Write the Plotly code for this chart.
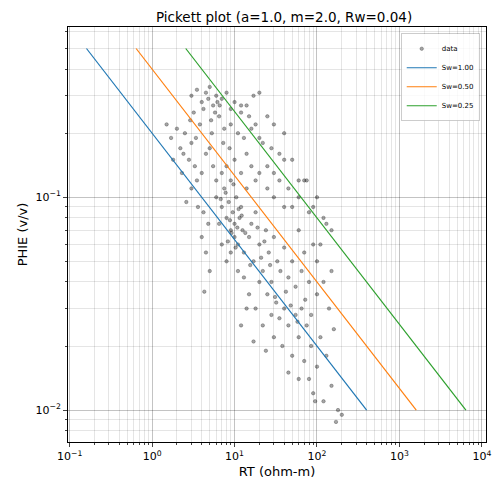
import numpy as np
import plotly.graph_objects as go

# Archie parameters
a, m, n, rw = 1.0, 2.0, 2.0, 0.04
sw_values = [1.00, 0.50, 0.25]
sw_colors = ["#1f77b4", "#ff7f0e", "#2ca02c"]
phie_line = [0.5, 0.01]

# tick labels
x_ticks = [0.1, 1, 10, 100, 1000, 10000]
x_ticktext = ["10<sup>−1</sup>", "10<sup>0</sup>", "10<sup>1</sup>", "10<sup>2</sup>", "10<sup>3</sup>", "10<sup>4</sup>"]
y_ticks = [0.01, 0.1]
y_ticktext = ["10<sup>−2</sup>", "10<sup>−1</sup>"]

# log data
rt = [3, 3.5, 4, 4.5, 5, 5.5, 6, 7, 8, 9, 10, 12, 14, 17, 20, 25, 30, 40, 3.2, 3.8,
      4.2, 5.2, 6.5, 7.5, 9, 11, 13, 16, 22, 28, 35, 50, 70, 100, 120, 150,
      1.5, 1.7, 2, 2.2, 2.5, 2.8, 3, 3.3, 1.8, 2.3, 2.6, 3, 3.5, 4, 4.5, 5, 5.5, 6,
      3.6, 4.2, 4.8, 4, 4.5, 4.3, 5,
      6, 7, 7.5, 8, 8.5, 9, 9.5, 10, 10, 10.5, 11, 11.5, 12, 12.5, 13, 14, 15, 16,
      17, 18, 20, 22, 24, 26, 28, 30, 33, 36, 40, 45, 50, 55, 60, 65, 70, 80, 90, 100,
      7, 8, 9, 10, 12, 14, 16, 18, 20, 25, 30, 35, 40, 45, 50, 60, 80, 9, 11, 13, 8, 7, 6.5,
      15, 18, 20, 22, 25, 28, 30, 32, 35, 38, 40, 45, 50, 55, 60, 65, 70, 75, 80, 85,
      90, 100, 110, 120, 130, 150, 160, 180, 200, 170, 12, 14, 17, 24, 45, 60, 95,
      140, 120, 100, 150, 110, 130, 90, 75,
      25, 30, 40, 60, 18, 20, 15, 12,
      8.8, 9.2, 10.8, 11.2, 7.8, 8.3, 9.7, 12.2, 6.8, 10.3, 13.5, 15.5, 19, 21, 23, 27,
      4.8, 5.8, 6.2, 3.4, 2.9, 2.4, 5.3, 6.6, 7.3, 8.7, 31, 42, 48, 58, 72, 85]
phie = [0.30, 0.32, 0.28, 0.31, 0.33, 0.27, 0.30, 0.29, 0.31, 0.26, 0.28, 0.25, 0.27, 0.30, 0.31, 0.24, 0.22, 0.20, 0.25, 0.22,
        0.26, 0.23, 0.24, 0.21, 0.22, 0.20, 0.19, 0.21, 0.18, 0.17, 0.16, 0.15, 0.12, 0.10, 0.08, 0.07,
        0.22, 0.19, 0.21, 0.17, 0.20, 0.15, 0.18, 0.14, 0.15, 0.13, 0.095, 0.11, 0.12, 0.13, 0.16, 0.17, 0.14, 0.12,
        0.09, 0.085, 0.075, 0.065, 0.055, 0.036, 0.045,
        0.10, 0.09, 0.11, 0.08, 0.095, 0.07, 0.085, 0.075, 0.065, 0.10, 0.06, 0.08, 0.09, 0.07, 0.055, 0.11, 0.065, 0.075,
        0.05, 0.085, 0.06, 0.045, 0.07, 0.055, 0.04, 0.065, 0.05, 0.045, 0.058, 0.042, 0.05, 0.038, 0.07, 0.045, 0.055, 0.04, 0.06, 0.05,
        0.13, 0.14, 0.12, 0.15, 0.13, 0.16, 0.14, 0.12, 0.13, 0.11, 0.10, 0.12, 0.09, 0.11, 0.09, 0.10, 0.085, 0.055, 0.045, 0.042, 0.05, 0.06, 0.075,
        0.035, 0.03, 0.04, 0.025, 0.035, 0.028, 0.022, 0.032, 0.027, 0.02, 0.03, 0.025, 0.018, 0.028, 0.022, 0.03, 0.017, 0.025, 0.014, 0.02,
        0.012, 0.016, 0.022, 0.011, 0.018, 0.013, 0.024, 0.01, 0.0095, 0.0088, 0.025, 0.03, 0.021, 0.019, 0.015, 0.014, 0.011,
        0.03, 0.04, 0.035, 0.045, 0.06, 0.075, 0.09, 0.12,
        0.14, 0.13, 0.15, 0.12, 0.22, 0.19, 0.24, 0.27,
        0.078, 0.068, 0.072, 0.088, 0.105, 0.062, 0.115, 0.082, 0.098, 0.058, 0.068, 0.048, 0.072, 0.052, 0.062, 0.048,
        0.29, 0.25, 0.28, 0.19, 0.23, 0.16, 0.20, 0.27, 0.18, 0.17, 0.034, 0.036, 0.031, 0.026, 0.033, 0.028]

fig = go.Figure()
fig.add_trace(go.Scatter(x=rt, y=phie, mode="markers", name="data",
                         marker=dict(size=3.5, color="rgba(0,0,0,0.35)",
                                     line=dict(width=0.5, color="rgba(0,0,0,0.5)"))))

for sw, col in zip(sw_values, sw_colors):
    p = np.array(phie_line)
    rt_line = a * rw / (sw ** n * p ** m)
    fig.add_trace(go.Scatter(x=rt_line, y=p, mode="lines", name=f"Sw={sw:.2f}",
                             line=dict(color=col, width=1.2)))

axis_common = dict(type="log", showline=True,
                   linecolor="black", mirror=True, ticks="outside", ticklen=4,
                   showgrid=True, gridcolor="rgba(0,0,0,0.15)", zeroline=False,
                   automargin=False,
                   minor=dict(showgrid=True, dtick="D1", gridcolor="rgba(0,0,0,0.1)",
                              ticks="outside", ticklen=2),
                   tickfont=dict(size=11, color="black"))

fig.update_layout(
    width=502, height=495,
    margin=dict(l=60, r=24, t=19, b=61),
    plot_bgcolor="white", paper_bgcolor="white",
    font=dict(family="DejaVu Sans", size=11, color="black"),
    title=dict(text="Pickett plot (a=1.0, m=2.0, Rw=0.04)", x=0.55, y=0.99,
               xanchor="center", font=dict(size=13.5), automargin=False),
    xaxis=dict(axis_common, range=[-1.02, 4.05], tickvals=x_ticks, ticktext=x_ticktext,
               title=dict(text="RT (ohm-m)", standoff=4)),
    yaxis=dict(axis_common, range=[-2.15, -0.2], tickvals=y_ticks, ticktext=y_ticktext,
               title=dict(text="PHIE (v/v)", standoff=4)),
    legend=dict(x=0.985, y=0.985, xanchor="right", yanchor="top", font=dict(size=7),
                itemwidth=30, tracegroupgap=0,
                bordercolor="rgba(0,0,0,0.2)", borderwidth=1, bgcolor="rgba(255,255,255,0.8)"),
)

fig.write_html("out.html")
